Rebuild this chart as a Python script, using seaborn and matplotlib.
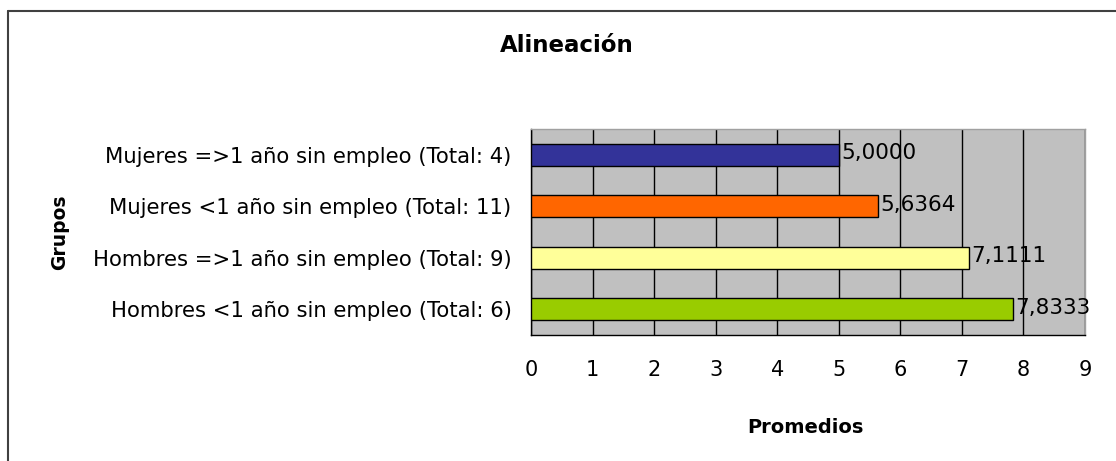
import matplotlib
matplotlib.use('Agg')
import matplotlib.pyplot as plt
from matplotlib.lines import Line2D
import seaborn as sns
import pandas as pd

# Datos del grafico
grupos = [
    'Mujeres =>1 año sin empleo (Total: 4)',
    'Mujeres <1 año sin empleo (Total: 11)',
    'Hombres =>1 año sin empleo (Total: 9)',
    'Hombres <1 año sin empleo (Total: 6)',
]
promedios = [5.0000, 5.6364, 7.1111, 7.8333]
colores = ['#333399', '#FF6600', '#FFFF99', '#99CC00']

sns.set_style('white')
plt.rcParams['font.family'] = ['DejaVu Sans']
plt.rcParams['text.color'] = 'black'
plt.rcParams['xtick.color'] = 'black'
plt.rcParams['ytick.color'] = 'black'

W, H = 1116, 461
fig = plt.figure(figsize=(W / 100, H / 100), dpi=100)
ax = fig.add_axes([531 / W, 1 - 335 / H, (1085 - 531) / W, (335 - 129) / H])

df = pd.DataFrame({'Grupos': grupos, 'Promedios': promedios})
sns.barplot(data=df, x='Promedios', y='Grupos', hue='Grupos', palette=colores,
            orient='h', width=0.42, edgecolor='black', linewidth=1,
            saturation=1, legend=False, ax=ax, zorder=3)

# Etiquetas de valor
for i, v in enumerate(promedios):
    ax.text(v + 0.04, i - 0.03, f'{v:.4f}'.replace('.', ','), va='center', ha='left',
            fontsize=15.5, zorder=4)

ax.set_facecolor('#C0C0C0')
ax.set_xlim(0, 9)
ax.set_ylim(3.5, -0.5)
ax.set_xticks(range(10))
ax.set_axisbelow(True)
ax.xaxis.grid(True, color='black', linewidth=1)
ax.yaxis.grid(False)

ax.set_yticks(range(4))
ax.set_yticks([-0.5, 0.5, 1.5, 2.5, 3.5], minor=True)
ax.tick_params(axis='y', which='major', length=0, pad=14, labelsize=15.2)
ax.tick_params(axis='y', which='minor', length=5, width=1, color='black', direction='out')
ax.tick_params(axis='x', length=5, width=1, color='black', direction='out', pad=13, labelsize=15)

ax.set_xlabel('')
ax.set_ylabel('')
for s in ['left', 'bottom']:
    ax.spines[s].set_color('black')
    ax.spines[s].set_linewidth(1)
for s in ['top', 'right']:
    ax.spines[s].set_color('#A0A0A0')
    ax.spines[s].set_linewidth(1)

# Titulos
fig.text(567 / W, 1 - 45 / H, 'Alineación', ha='center', va='center',
         fontsize=16.5, fontweight='bold')
fig.text(60 / W, 1 - 232 / H, 'Grupos', ha='center', va='center',
         rotation=90, fontsize=13.5, fontweight='bold')
fig.text(805 / W, 1 - 427 / H, 'Promedios', ha='center', va='center',
         fontsize=14, fontweight='bold')

# Marco de la figura
fig.add_artist(Line2D([8 / W, 8 / W], [0, 1 - 11 / H], color='#404040', lw=1.5,
                      transform=fig.transFigure))
fig.add_artist(Line2D([8 / W, 1], [1 - 11 / H, 1 - 11 / H], color='#404040', lw=1.5,
                      transform=fig.transFigure))

fig.savefig('out.png', dpi=100)
